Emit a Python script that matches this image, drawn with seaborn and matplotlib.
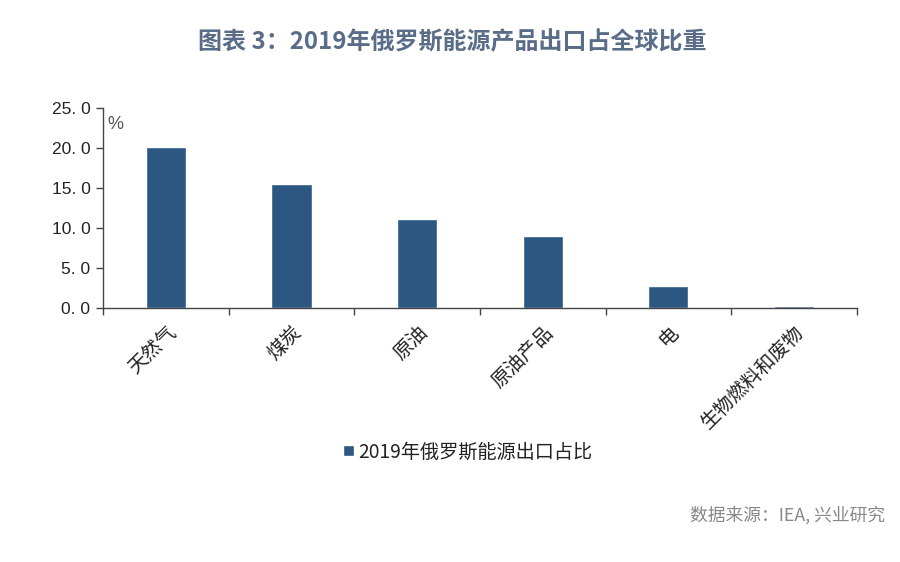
import matplotlib
matplotlib.use("Agg")
import matplotlib.pyplot as plt
import seaborn as sns
import pandas as pd
import numpy as np

categories = ["天然气", "煤炭", "原油", "原油产品", "电", "生物燃料和废物"]
values = [20.1, 15.5, 11.1, 9.0, 2.75, 0.2]
yticks = [0.0, 5.0, 10.0, 15.0, 20.0, 25.0]
series_name = "2019年俄罗斯能源出口占比"
title = "图表 3：2019年俄罗斯能源产品出口占全球比重"
source = "数据来源：IEA, 兴业研究"

sns.set_theme(style="white")
plt.rcParams['font.family'] = ['Noto Sans CJK SC', 'DejaVu Sans']

df = pd.DataFrame({"cat": categories, "val": values, "series": series_name})

fig = plt.figure(figsize=(9, 5.62), dpi=100)
ax = fig.add_axes([0.1144, 0.452, 0.8376, 0.356])
bar_color = "#2b5782"
sns.barplot(data=df, x="cat", y="val", hue="series", palette=[bar_color],
            width=0.32, ax=ax, saturation=1, legend=True)

ax.set_ylim(0, 25)
ax.set_xlim(-0.5, len(categories) - 0.5)
ax.set_yticks(yticks)
ax.set_yticklabels([f"{v:.1f}".replace(".", ". ") for v in yticks],
                   family=['Liberation Sans'], fontsize=12.5, color="#222222")
# major ticks at boundaries, labels at centers
ax.set_xticks(np.arange(-0.5, len(categories), 1.0))
ax.set_xticklabels([])
ax.set_xticks(np.arange(len(categories)), minor=True)
ax.set_xticklabels(categories, minor=True, rotation=45, ha="right", va="top",
                   rotation_mode="anchor", fontsize=14, color="#222222")
ax.tick_params(axis="x", which="minor", length=0, pad=10)
ax.tick_params(axis="x", which="major", length=5, direction="out", color="#444444", width=1, bottom=True)
ax.tick_params(axis="y", length=5, direction="out", color="#444444", width=1, left=True, pad=4)
ax.set_xlabel("")
ax.set_ylabel("")
for s in ["top", "right"]:
    ax.spines[s].set_visible(False)
for s in ["left", "bottom"]:
    ax.spines[s].set_color("#444444")
    ax.spines[s].set_linewidth(1)

ax.text(0.006, 0.96, "%", transform=ax.transAxes, fontsize=13, color="#555555",
        family=['Liberation Sans'], va="top", ha="left")

leg = ax.legend(loc="center", bbox_to_anchor=(468 / 900, 1 - 452 / 562),
                bbox_transform=fig.transFigure, frameon=False, fontsize=13.8,
                handlelength=0.55, handleheight=0.55, handletextpad=0.25)
for t in leg.get_texts():
    t.set_color("#222222")

fig.text(452 / 900, 1 - 42 / 562, title, ha="center", va="center", fontsize=17.3,
         color="#5a6d88", fontweight="bold")
fig.text(885 / 900, 1 - 515 / 562, source, ha="right", va="center", fontsize=12.8,
         color="#888888")

fig.savefig("out.png", dpi=100)
